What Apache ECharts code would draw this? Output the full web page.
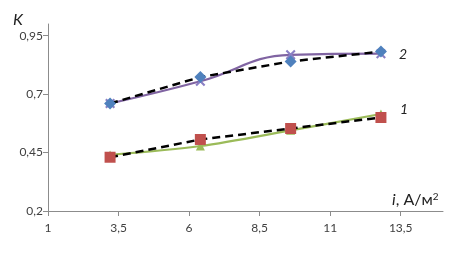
<!DOCTYPE html>
<html>
<head>
<meta charset="utf-8">
<script src="https://cdn.jsdelivr.net/npm/echarts@6/dist/echarts.min.js"></script>
<style>html,body{margin:0;padding:0;background:#fff}#c{width:462px;height:254px}</style>
</head>
<body>
<div id="c"></div>
<script>
// Data
const xValues = [3.2, 6.4, 9.6, 12.8];
const curve2Calc = [0.66, 0.755, 0.868, 0.873];   // purple smooth line, X markers
const curve2Exp  = [0.66, 0.773, 0.84, 0.882];    // blue diamonds, dashed
const curve1Calc = [0.44, 0.478, 0.545, 0.615];   // green line, triangles
const curve1Exp  = [0.43, 0.506, 0.553, 0.60];    // red squares, dashed
const xTicks = [1, 3.5, 6, 8.5, 11, 13.5];
const yTicks = [0.2, 0.45, 0.7, 0.95];

const pair = (ys) => xValues.map((x, i) => [x, ys[i]]);
const fmt = v => String(v).replace('.', ',');
const font = 'Lato, "Open Sans", sans-serif';
const xSym = 'path://M0,1.5L1.5,0L5,3.5L8.5,0L10,1.5L6.5,5L10,8.5L8.5,10L5,6.5L1.5,10L0,8.5L3.5,5Z';

const chart = echarts.init(document.getElementById('c'), null, {renderer: 'canvas'});
chart.setOption({
  animation: false,
  backgroundColor: '#fff',
  grid: {left: 48, right: 19, top: 24, bottom: 43, containLabel: false},
  xAxis: {
    type: 'value', min: 1, max: 15,
    axisLine: {lineStyle: {color: '#8c8c8c', width: 1}},
    axisTick: {show: true, length: 5, lineStyle: {color: '#8c8c8c'}, customValues: xTicks},
    axisLabel: {customValues: xTicks, formatter: fmt, color: '#404040', fontFamily: font, fontSize: 12, margin: 11},
    splitLine: {show: false}
  },
  yAxis: {
    type: 'value', min: 0.2, max: 1.0,
    axisLine: {show: true, lineStyle: {color: '#8c8c8c', width: 1}},
    axisTick: {show: true, length: 5, lineStyle: {color: '#8c8c8c'}, customValues: yTicks},
    axisLabel: {customValues: yTicks, formatter: fmt, color: '#404040', fontFamily: font, fontSize: 12, margin: 5},
    splitLine: {show: false}
  },
  series: [
    {
      type: 'line', data: pair(curve1Calc), smooth: 0.3,
      lineStyle: {color: '#9bbb59', width: 2.2},
      symbol: 'triangle', symbolSize: 9, itemStyle: {color: '#9bbb59'}, z: 2
    },
    {
      type: 'line', data: pair(curve2Calc), smooth: 0.45,
      lineStyle: {color: '#8064a2', width: 2.2},
      symbol: xSym, symbolSize: 10, itemStyle: {color: '#8a7fc4'}, z: 2
    },
    {
      type: 'line', data: pair(curve1Exp),
      lineStyle: {color: '#000', width: 2.5, type: [8, 5]},
      symbol: 'rect', symbolSize: 11, itemStyle: {color: '#c0504d'}, z: 3
    },
    {
      type: 'line', data: pair(curve2Exp),
      lineStyle: {color: '#000', width: 2.5, type: [8, 5]},
      symbol: 'diamond', symbolSize: 12, itemStyle: {color: '#4f81bd'}, z: 3
    }
  ],
  graphic: [
    {type: 'text', left: 13, top: 12, style: {text: 'K', font: 'italic 16px ' + font, fill: '#222'}},
    {type: 'text', left: 399, top: 47, style: {text: '2', font: 'italic 14px ' + font, fill: '#222'}},
    {type: 'text', left: 400, top: 102, style: {text: '1', font: 'italic 14px ' + font, fill: '#222'}},
    {type: 'text', left: 392, top: 192, style: {
      text: '{i|i}, A/м{s|2}',
      rich: {i: {fontStyle: 'italic', fontSize: 16, fontFamily: font, fill: '#222'}, s: {fontSize: 10, verticalAlign: 'top', fontFamily: font, fill: '#222'}},
      font: '16px ' + font, fill: '#222'
    }}
  ]
});
</script>
</body>
</html>
